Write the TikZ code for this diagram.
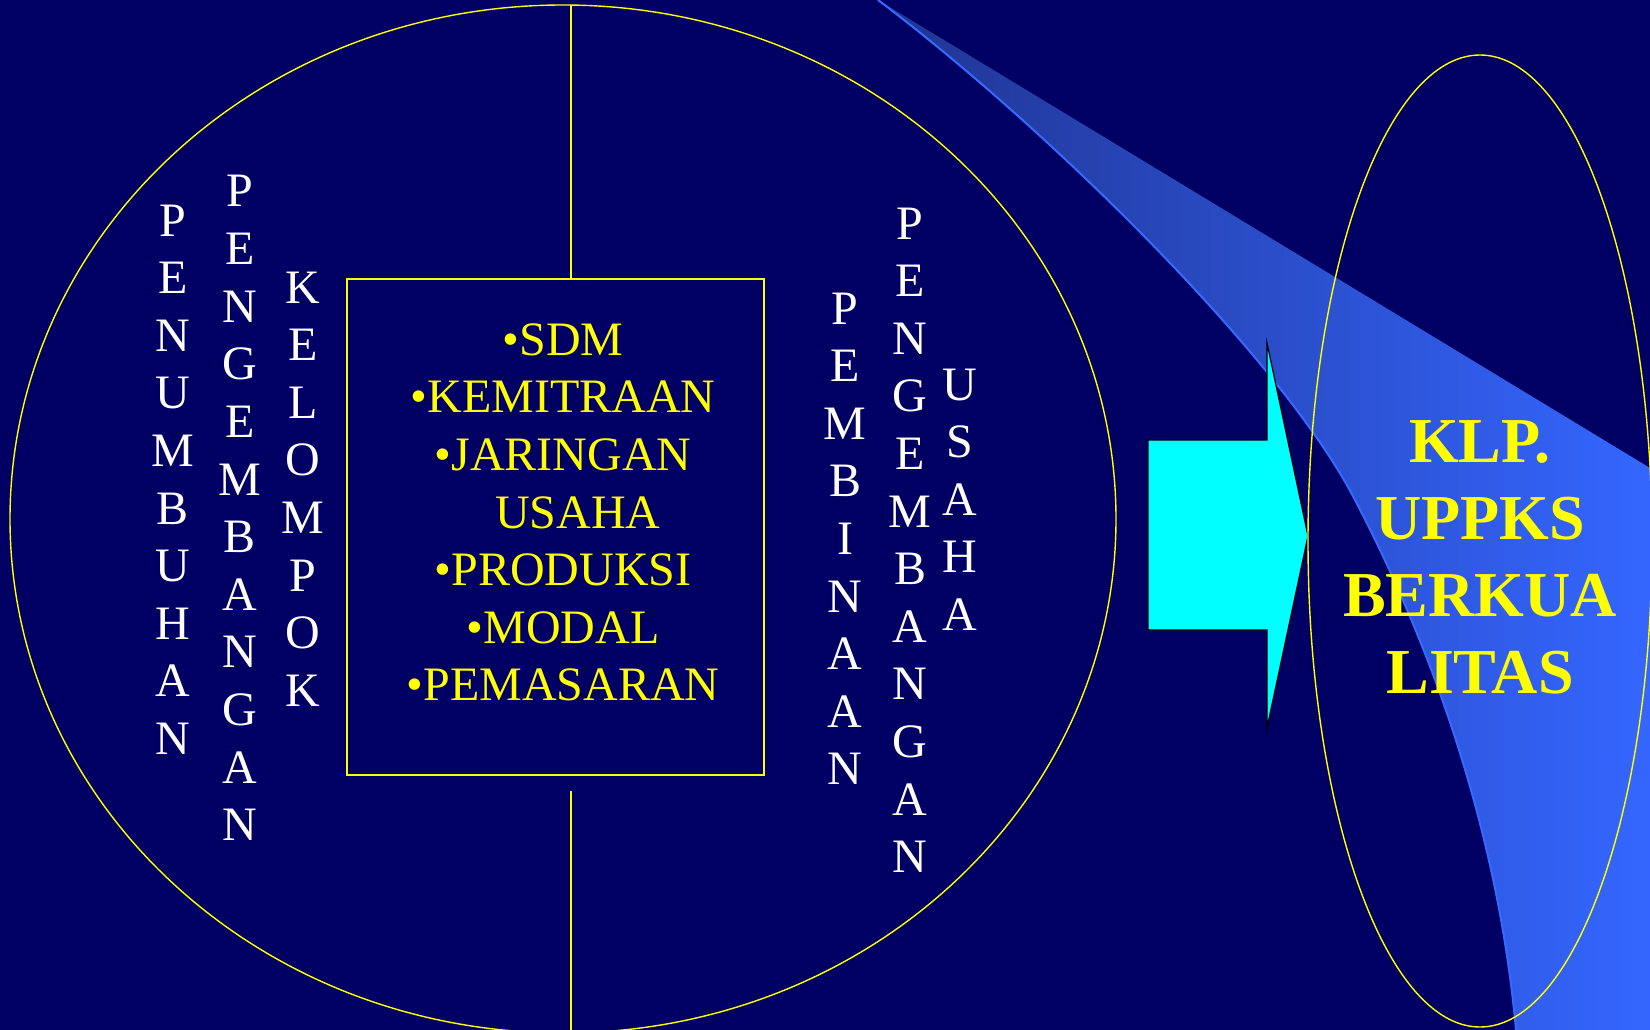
\documentclass[tikz,border=0pt]{standalone}
\usepackage{fontspec}
\setmainfont{Liberation Serif}
\definecolor{bg}{RGB}{0,0,100}
\definecolor{yel}{RGB}{255,255,0}
\definecolor{ribL}{RGB}{32,52,145}
\definecolor{ribR}{RGB}{52,102,255}
\definecolor{ribE}{RGB}{55,105,255}
\definecolor{arrcyan}{RGB}{0,255,255}
\begin{document}
\begin{tikzpicture}[x=1pt,y=-1pt,
  vl/.style={text=white, font=\fontsize{48}{57.6}\selectfont, inner sep=0pt, anchor=base},
  bl/.style={text=yel, font=\fontsize{48}{57.6}\selectfont, inner sep=0pt, anchor=base},
  kl/.style={text=yel, font=\fontsize{64}{77}\selectfont\bfseries, inner sep=0pt, anchor=base},
  yline/.style={draw=yel, line width=1.4pt}]
\fill[bg] (0,0) rectangle (1650,1030);
\useasboundingbox (0,0) rectangle (1650,1030);

% ribbon
\shade[left color=ribL, right color=ribR] (878,0) .. controls (1040,122) and (1280,355) .. (1355,500)
  .. controls (1413,611) and (1495,800) .. (1516,1030) -- (1650,1030) -- (1650,468) -- cycle;
\draw[ribE, line width=2pt] (878,0) .. controls (1040,122) and (1280,355) .. (1355,500)
  .. controls (1413,611) and (1495,800) .. (1516,1030);

% big ellipse
\draw[yline] (563,519) ellipse [x radius=553, y radius=514];

% box and vertical line
\node[draw=yel, line width=1.6pt, minimum width=417pt, minimum height=496pt, inner sep=0pt] (box) at (555.5,527) {};
\coordinate (vt) at (571,5);
\coordinate (vb1) at (571,791);
\coordinate (vb2) at (571,1030);
\draw[yline] (vt) -- (vt |- box.north);
\draw[yline] (vb1) -- (vb2);

% arrow
\coordinate (a1) at (1148,440);
\coordinate (a2) at (1267,440);
\coordinate (a3) at (1267,343);
\coordinate (a4) at (1308,536);
\coordinate (a5) at (1267,728);
\coordinate (a6) at (1267,630);
\coordinate (a7) at (1148,630);
\filldraw[fill=arrcyan, draw=black, line width=1.2pt] (a1) -- (a2) -- (a3) -- (a4) -- (a5) -- (a6) -- (a7) -- cycle;

% right ellipse
\draw[yline] (1480,541) ellipse [x radius=172, y radius=486];

% vertical words
\foreach \l [count=\i] in {P,E,N,U,M,B,U,H,A,N}
  \node[vl] (pa\i) at (173, {236+(\i-1)*57.6}) {\l};
\foreach \l [count=\i] in {P,E,N,G,E,M,B,A,N,G,A,N}
  \node[vl] (pb\i) at (240, {207+(\i-1)*57.6}) {\l};
\foreach \l [count=\i] in {K,E,L,O,M,P,O,K}
  \node[vl] (pc\i) at (303, {303+(\i-1)*57.6}) {\l};
\foreach \l [count=\i] in {P,E,M,B,I,N,A,A,N}
  \node[vl] (pd\i) at (845, {324+(\i-1)*57.6}) {\l};
\foreach \l [count=\i] in {P,E,N,G,E,M,B,A,N,G,A,N}
  \node[vl] (pe\i) at (910, {239+(\i-1)*57.6}) {\l};
\foreach \l [count=\i] in {U,S,A,H,A}
  \node[vl] (pf\i) at (960, {400+(\i-1)*57.6}) {\l};

% box text
\node[bl] (t1) at (563,355) {•SDM};
\node[bl] (t2) at (563,412) {•KEMITRAAN};
\node[bl] (t3) at (563,470) {•JARINGAN};
\node[bl, anchor=base west] (t4) at (495,528) {USAHA};
\node[bl] (t5) at (563,585) {•PRODUKSI};
\node[bl] (t6) at (563,643) {•MODAL};
\node[bl] (t7) at (563,700) {•PEMASARAN};

% result text
\node[kl] (k1) at (1480,462) {KLP.};
\node[kl] (k2) at (1480,539) {UPPKS};
\node[kl] (k3) at (1480,616) {BERKUA};
\node[kl] (k4) at (1480,693) {LITAS};
\end{tikzpicture}
\end{document}
